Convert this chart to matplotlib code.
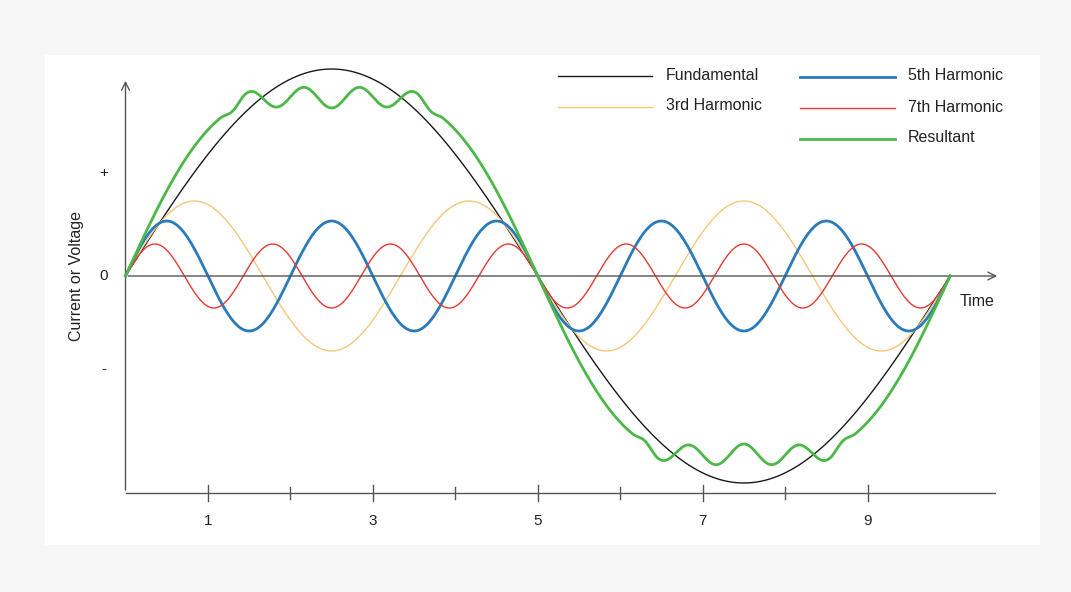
import numpy as np
import matplotlib
matplotlib.use("Agg")
import matplotlib.pyplot as plt

plt.rcParams['font.family'] = ['Liberation Sans', 'DejaVu Sans']

# harmonic orders and amplitudes (in chart units)
orders = [1, 3, 5, 7]
amplitudes = [207, 75, 55, 32]
names = ["Fundamental", "3rd Harmonic", "5th Harmonic", "7th Harmonic"]
colors = ["#1a1a1a", "#f6c77a", "#2b7bba", "#e53a33"]
widths = [1.0, 1.0, 2.0, 1.0]
# resultant: fundamental + 3rd + plateau ripple (orders / amplitudes)
res_orders = [1, 3, 15]
res_amps = [205, 27, 10]
xticks_major = [1, 3, 5, 7, 9]
xticks_minor = [2, 4, 6, 8]

fig = plt.figure(figsize=(10.71, 5.92), dpi=100, facecolor="#f7f7f7")
W, H = 1071, 592
ax = fig.add_axes([45 / W, 1 - 545 / H, (1040 - 45) / W, (545 - 55) / H])
ax.set_facecolor("white")
sx, x0 = 82.45, 125.5
def px2x(p): return (p - x0) / sx
def py2y(p): return 276 - p
ax.set_xlim(px2x(45), px2x(1040))
ax.set_ylim(py2y(545), py2y(55))
for s in ax.spines.values():
    s.set_visible(False)
ax.set_xticks([]); ax.set_yticks([])

t = np.linspace(0, 10, 3000)
x = 2 * np.pi * t / 10
for n, a, c, w in zip(orders, amplitudes, colors, widths):
    ax.plot(t, a * np.sin(n * x), color=c, lw=w, zorder=3)
res = res_amps[0] * np.sin(res_orders[0] * x) + res_amps[1] * np.sin(res_orders[1] * x)
env = np.clip((np.abs(np.sin(x)) - 0.66) / 0.13, 0, 1)
env = env * env * (3 - 2 * env)
res = res + res_amps[2] * np.sin(res_orders[2] * x) * env
ax.plot(t, res, color="#4cb848", lw=2, zorder=4)

gray = "#555555"
ax.annotate("", xy=(px2x(1000), 0), xytext=(0, 0),
            arrowprops=dict(arrowstyle="->", color=gray, lw=1, mutation_scale=14))
ax.annotate("", xy=(0, py2y(78)), xytext=(0, py2y(493)),
            arrowprops=dict(arrowstyle="->", color=gray, lw=1, mutation_scale=14))
ax.plot([0, px2x(995)], [py2y(493)] * 2, color=gray, lw=1)
for v in xticks_major:
    ax.plot([v, v], [py2y(485), py2y(501)], color=gray, lw=1)
    ax.text(v, py2y(521), str(v), ha="center", va="center", fontsize=11, color="#222")
for v in xticks_minor:
    ax.plot([v, v], [py2y(487), py2y(499)], color=gray, lw=1)
ax.text(px2x(977), py2y(301), "Time", ha="center", va="center", fontsize=11.5, color="#222")
ax.text(px2x(104), 0, "0", ha="center", va="center", fontsize=11, color="#222")
ax.text(px2x(104), py2y(173), "+", ha="center", va="center", fontsize=11, color="#222")
ax.text(px2x(104), py2y(369), "-", ha="center", va="center", fontsize=11, color="#222")
ax.text(px2x(77), 0, "Current or Voltage", ha="center", va="center", rotation=90,
        fontsize=11.5, color="#222")

leg = [(names[0], colors[0], widths[0], 558, 652, 666, 76),
       (names[1], colors[1], widths[1], 558, 652, 666, 107),
       (names[2], colors[2], widths[2], 800, 895, 908, 77),
       (names[3], colors[3], widths[3], 800, 895, 908, 108),
       ("Resultant", "#4cb848", 2, 800, 895, 908, 139)]
for nm, c, w, a, b, tx, py in leg:
    ax.plot([px2x(a), px2x(b)], [py2y(py)] * 2, color=c, lw=w)
    ax.text(px2x(tx), py2y(py - 1), nm, ha="left", va="center", fontsize=11.5, color="#222")

fig.savefig("out.png", dpi=100, facecolor=fig.get_facecolor())
